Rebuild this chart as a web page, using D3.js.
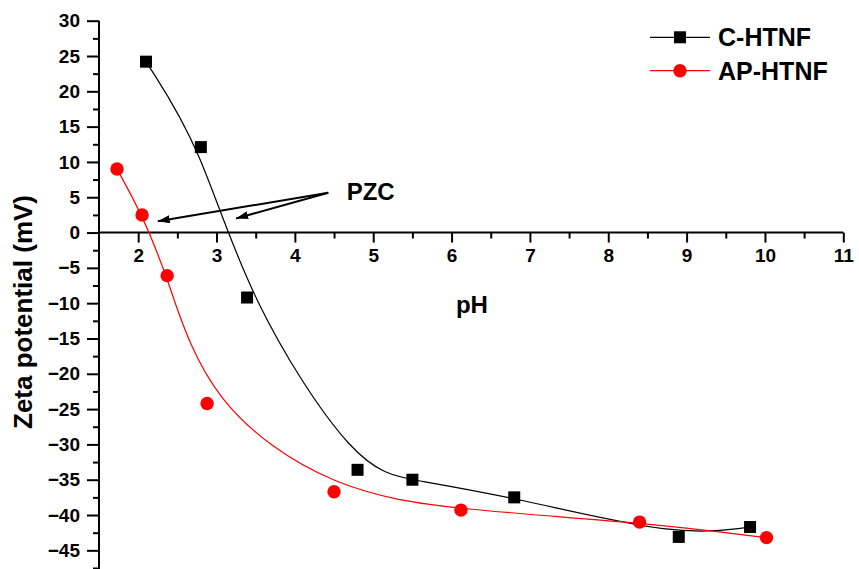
<!DOCTYPE html>
<html>
<head>
<meta charset="utf-8">
<script src="https://cdn.jsdelivr.net/npm/d3@7"></script>
<style>
  html, body { margin: 0; padding: 0; background: #fff; }
  svg { display: block; font-family: Arial, "Liberation Sans", sans-serif; }
</style>
</head>
<body>
<svg id="chart" width="859" height="569"></svg>
<script>
// ---- data ----
const seriesNames = ["C-HTNF", "AP-HTNF"];
const cPH   = [2.10, 2.80, 3.39, 4.80, 5.50, 6.80, 8.90, 9.81];
const cZeta = [24.2, 12.1, -9.2, -33.6, -35.0, -37.5, -43.1, -41.7];
const apPH   = [1.73, 2.05, 2.37, 2.88, 4.50, 6.12, 8.40, 10.02];
const apZeta = [9.0, 2.5, -6.1, -24.2, -36.7, -39.3, -41.0, -43.2];
const xTicks = [2, 3, 4, 5, 6, 7, 8, 9, 10, 11];
const xMinorTicks = [2.5, 3.5, 4.5, 5.5, 6.5, 7.5, 8.5, 9.5, 10.5];
const yTicks = [-45, -40, -35, -30, -25, -20, -15, -10, -5, 0, 5, 10, 15, 20, 25, 30];
const yMinorTicks = [-47.5, -42.5, -37.5, -32.5, -27.5, -22.5, -17.5, -12.5, -7.5, -2.5, 2.5, 7.5, 12.5, 17.5, 22.5, 27.5];
const xTitle = "pH";
const yTitle = "Zeta potential (mV)";
const annotation = "PZC";
const pzcTargets = [[2.25, 1.6], [3.25, 2.0]];

const svg = d3.select("#chart");
const x = d3.scaleLinear().domain([1.5, 11]).range([99, 843.3]);
const y = d3.scaleLinear().domain([-47.7, 30]).range([569.4, 20.7]);

// ---- axes ----
const gx = svg.append("g").attr("transform", `translate(0,${y(0)})`);
gx.call(d3.axisBottom(x).tickValues(xTicks).tickSize(10).tickPadding(6).tickFormat(d3.format("d")));
gx.append("g").call(d3.axisBottom(x).tickValues(xMinorTicks).tickSize(6).tickFormat(""))
  .select(".domain").remove();
gx.select(".domain").attr("d", `M${x(1.5)},0H${x(11)}`);

const gy = svg.append("g").attr("transform", `translate(${x(1.5)},0)`);
gy.call(d3.axisLeft(y).tickValues(yTicks).tickSize(12).tickPadding(7).tickFormat(d3.format("d")));
gy.append("g").call(d3.axisLeft(y).tickValues(yMinorTicks).tickSize(6).tickFormat(""))
  .select(".domain").remove();
gy.select(".domain").attr("d", `M0,${y(30)}V569`);

svg.selectAll(".domain, .tick line").attr("stroke", "#000").attr("stroke-width", 2);
svg.selectAll(".tick text").attr("font-size", 19).attr("font-weight", "bold")
  .attr("font-family", "Arial, 'Liberation Sans', sans-serif").attr("fill", "#000");

// titles
svg.append("text").attr("x", x(6.26)).attr("y", 313).attr("text-anchor", "middle")
  .attr("font-size", 24).attr("font-weight", "bold").text(xTitle);
svg.append("text").attr("transform", "translate(32,312) rotate(-90)").attr("text-anchor", "middle")
  .attr("font-size", 26).attr("font-weight", "bold").text(yTitle);

// ---- lines ----
const line = d3.line().x(d => x(d[0])).y(d => y(d[1])).curve(d3.curveBasis);
const cData = cPH.map((v, i) => [v, cZeta[i]]);
const apData = apPH.map((v, i) => [v, apZeta[i]]);

svg.append("path").datum(cData).attr("d", line).attr("fill", "none").attr("stroke", "#000").attr("stroke-width", 1.2);
svg.append("path").datum(apData).attr("d", line).attr("fill", "none").attr("stroke", "#ff0000").attr("stroke-width", 1.2);

svg.selectAll(".sq").data(cData).enter().append("rect")
  .attr("x", d => x(d[0]) - 6).attr("y", d => y(d[1]) - 6).attr("width", 12).attr("height", 12).attr("fill", "#000");
svg.selectAll(".ci").data(apData).enter().append("circle")
  .attr("cx", d => x(d[0])).attr("cy", d => y(d[1])).attr("r", 6.7).attr("fill", "#ff0000");

// ---- annotation ----
const defs = svg.append("defs");
defs.append("marker").attr("id", "arr").attr("viewBox", "0 0 12 8").attr("refX", 12).attr("refY", 4)
  .attr("markerWidth", 12).attr("markerHeight", 8).attr("markerUnits", "userSpaceOnUse").attr("orient", "auto")
  .append("path").attr("d", "M0,0L12,4L0,8Z").attr("fill", "#000");
const start = [328.3, 192.7];
pzcTargets.forEach(t => {
  svg.append("line").attr("x1", start[0]).attr("y1", start[1])
    .attr("x2", x(t[0])).attr("y2", y(t[1]))
    .attr("stroke", "#000").attr("stroke-width", 2).attr("marker-end", "url(#arr)");
});
svg.append("text").attr("x", 346.7).attr("y", 200).attr("font-size", 24).attr("font-weight", "bold").text(annotation);

// ---- legend ----
const legend = svg.append("g");
const legY = [37.3, 70.7];
const legColors = ["#000", "#ff0000"];
seriesNames.forEach((name, i) => {
  legend.append("line").attr("x1", 650).attr("x2", 710).attr("y1", legY[i]).attr("y2", legY[i])
    .attr("stroke", legColors[i]).attr("stroke-width", 1.2);
  if (i === 0) {
    legend.append("rect").attr("x", 674).attr("y", legY[i] - 6).attr("width", 12).attr("height", 12).attr("fill", "#000");
  } else {
    legend.append("circle").attr("cx", 680).attr("cy", legY[i]).attr("r", 6.7).attr("fill", "#ff0000");
  }
  legend.append("text").attr("x", 718).attr("y", legY[i] + 9).attr("font-size", 25).attr("font-weight", "bold").text(name);
});
</script>
</body>
</html>
